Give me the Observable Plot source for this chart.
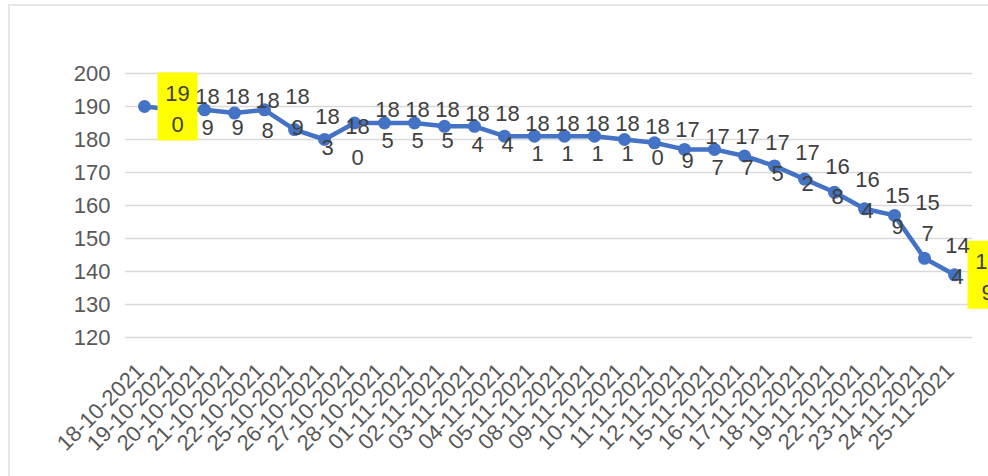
<!DOCTYPE html>
<html><head><meta charset="utf-8">
<script src="https://cdn.jsdelivr.net/npm/d3@7"></script>
<script src="https://cdn.jsdelivr.net/npm/@observablehq/plot@0.6"></script>
<style>
html,body{margin:0;padding:0;background:#fff;overflow:hidden;width:988px;height:476px;}
#frame{position:absolute;left:8px;top:4px;width:1000px;height:500px;border-left:2px solid #e6e6e6;border-top:2px solid #e6e6e6;}
#chart{position:absolute;left:0;top:0;}
</style></head><body><div id="frame"></div><div id="chart"></div>
<script>
const dates = ["18-10-2021","19-10-2021","20-10-2021","21-10-2021","22-10-2021","25-10-2021","26-10-2021","27-10-2021","28-10-2021","01-11-2021","02-11-2021","03-11-2021","04-11-2021","05-11-2021","08-11-2021","09-11-2021","10-11-2021","11-11-2021","12-11-2021","15-11-2021","16-11-2021","17-11-2021","18-11-2021","19-11-2021","22-11-2021","23-11-2021","24-11-2021","25-11-2021"];
const values = [190,189,189,188,189,183,180,185,185,185,184,184,181,181,181,181,180,179,177,177,175,172,168,164,159,157,144,139];
const highlighted = ["18-10-2021","25-11-2021"];
const yTicks = [120,130,140,150,160,170,180,190,200];

const data = dates.map((d,i)=>({date:d, value:values[i], label:String(values[i]).slice(0,2)+"\n"+String(values[i]).slice(2)}));
const box = {draw(ctx){ctx.rect(-20,-34,40,68);}};

const chart = Plot.plot({
  width:988, height:476, marginLeft:125, marginRight:16, marginTop:73, marginBottom:139,
  style:{fontFamily:"'Liberation Sans', Arial, sans-serif", color:"#595959", background:"transparent", overflow:"visible"},
  x:{type:"point", domain:dates, padding:0.5, label:null},
  y:{domain:[120,200], label:null},
  marks:[
    Plot.gridY(yTicks, {stroke:"#d9d9d9", strokeOpacity:1, strokeWidth:1.3}),
    Plot.axisY(yTicks, {tickSize:0, tickPadding:15, fontSize:22, label:null}),
    Plot.axisX({tickRotate:-45, tickSize:0, tickPadding:30, dx:-4, fontSize:22, label:null}),
    Plot.line(data,{x:"date",y:"value",stroke:"#4472C4",strokeWidth:4.5}),
    Plot.dot(data,{x:"date",y:"value",r:6.5,fill:"#4472C4"}),
    Plot.dot(data.filter(d=>highlighted.includes(d.date)),{x:"date",y:"value",dx:33,symbol:box,fill:"#FFFF00"}),
    Plot.text(data,{x:"date",y:"value",text:"label",dx:33,fontSize:22,lineHeight:1.4,fill:"#404040"})
  ]
});
document.getElementById("chart").appendChild(chart);
</script></body></html>
